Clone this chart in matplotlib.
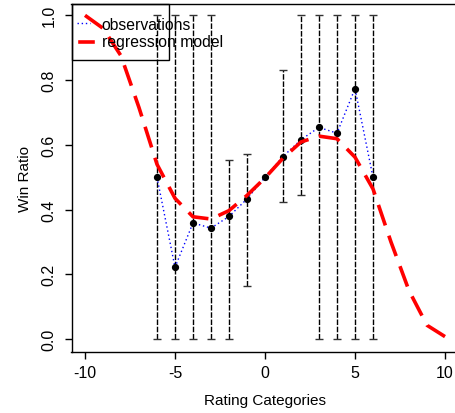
import matplotlib
matplotlib.use("Agg")
import matplotlib.pyplot as plt
import numpy as np

plt.rcParams["font.family"] = ["Liberation Sans", "DejaVu Sans"]

# observed win ratios per rating category
obs_x = [-6, -5, -4, -3, -2, -1, 0, 1, 2, 3, 4, 5, 6]
obs_y = [0.500, 0.222, 0.359, 0.343, 0.379, 0.433, 0.500, 0.564, 0.616, 0.654, 0.636, 0.774, 0.500]
# confidence interval bounds (nan = no bar drawn)
ci_low = [0.0, 0.0, 0.0, 0.0, 0.0, 0.165, np.nan, 0.423, 0.444, 0.0, 0.0, 0.0, 0.0]
ci_high = [1.0, 1.0, 1.0, 1.0, 0.554, 0.573, np.nan, 0.831, 1.0, 1.0, 1.0, 1.0, 1.0]

# fitted regression curve
reg_x = list(range(-10, 11))
reg_y = [1.0, 0.96, 0.875, 0.715, 0.54, 0.435, 0.378, 0.371, 0.397, 0.444, 0.498,
         0.559, 0.609, 0.627, 0.619, 0.562, 0.464, 0.30, 0.15, 0.043, 0.008]

x_ticks = [-10, -5, 0, 5, 10]
y_ticks = [0.0, 0.2, 0.4, 0.6, 0.8, 1.0]

W, H = 455, 414


def fig_xy(px, py):
    return px / W, 1 - py / H


fig = plt.figure(figsize=(W / 100, H / 100), dpi=100)
left, right, top, bottom = 71.5, 459.4, 5.0, 352.5
ax = fig.add_axes([left / W, 1 - bottom / H, (right - left) / W, (bottom - top) / H])

# error bars
ax.vlines(obs_x, ci_low, ci_high, colors="black", linewidth=1, linestyles=[(0, (4, 1.2))])
ax.plot(obs_x, ci_low, linestyle="none", marker="_", markersize=5.5, color="#333333", markeredgewidth=1)
ax.plot(obs_x, ci_high, linestyle="none", marker="_", markersize=5.5, color="#333333", markeredgewidth=1)

# observations
ax.plot(obs_x, obs_y, color="blue", linewidth=1, linestyle=(0, (1, 2)))
ax.plot(obs_x, obs_y, linestyle="none", marker="o", markersize=4.2, color="black")

# regression model
ax.plot(reg_x, reg_y, color="red", linewidth=2.6, linestyle=(0, (6, 3)), zorder=4)

ax.set_xlim(-10.75, 10.8)
ax.set_ylim(-0.038, 1.035)
ax.set_xticks(x_ticks)
ax.set_xticklabels([str(t) for t in x_ticks])
ax.set_yticks(y_ticks)
ax.set_yticklabels([f"{t:.1f}" for t in y_ticks], rotation=90, va="center")
ax.tick_params(axis="both", direction="out", length=5.2, width=1, labelsize=11.5, colors="black")
ax.tick_params(axis="x", pad=4.5)
ax.tick_params(axis="y", pad=5.5)
for s in ax.spines.values():
    s.set_linewidth(1)

fig.text(*fig_xy(265, 401), "Rating Categories", ha="center", va="center", fontsize=11)
fig.text(*fig_xy(25, 178.5), "Win Ratio", ha="center", va="center", rotation=90, fontsize=11)

# legend drawn by hand (text spills over the box, as in the original)
lx0, ly0 = fig_xy(71.7, 61)
lx1, ly1 = fig_xy(169.3, 5)
fig.add_artist(plt.Rectangle((lx0, ly0), lx1 - lx0, ly1 - ly0, transform=fig.transFigure,
                             fill=False, edgecolor="black", linewidth=1))
fig.add_artist(plt.Line2D([77 / W, 90 / W], [1 - 24 / H, 1 - 24 / H], transform=fig.transFigure,
                          color="blue", linewidth=1, linestyle=(0, (1, 2))))
fig.add_artist(plt.Line2D([80 / W, 93 / W], [1 - 42.5 / H, 1 - 42.5 / H], transform=fig.transFigure,
                          color="red", linewidth=2.6))
fig.text(*fig_xy(101.5, 25), "observations", ha="left", va="center", fontsize=11.3)
fig.text(*fig_xy(101.5, 43), "regression model", ha="left", va="center", fontsize=11.3)

fig.savefig("out.png", dpi=100)
